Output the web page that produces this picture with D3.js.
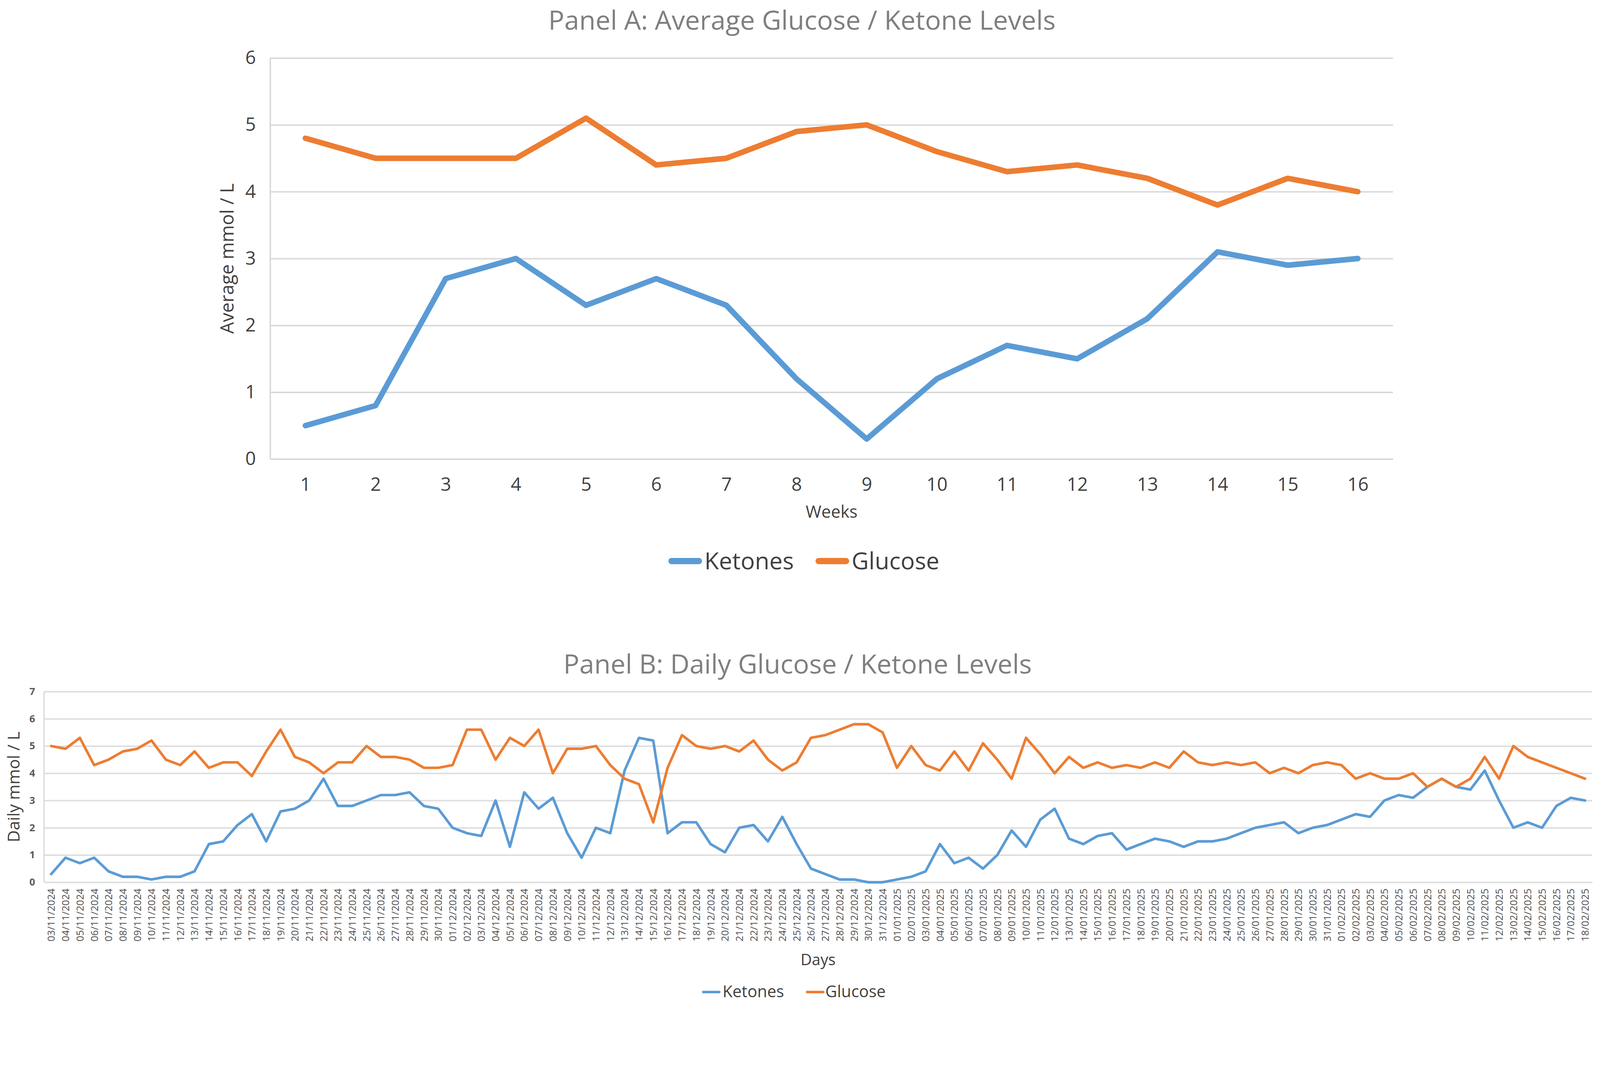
<!DOCTYPE html>
<html>
<head>
<meta charset="utf-8">
<script src="https://cdn.jsdelivr.net/npm/d3@7"></script>
<style>
  html, body { margin: 0; padding: 0; width: 100%; height: 100%; overflow: hidden; background: #fff; }
  svg { display: block; }
  text { font-family: "Open Sans", sans-serif; }
</style>
</head>
<body>
<script>
// ---- data ----
var weeks = [1, 2, 3, 4, 5, 6, 7, 8, 9, 10, 11, 12, 13, 14, 15, 16]
var weeklyKetones = [0.5, 0.8, 2.7, 3.0, 2.3, 2.7, 2.3, 1.2, 0.3, 1.2, 1.7, 1.5, 2.1, 3.1, 2.9, 3.0]
var weeklyGlucose = [4.8, 4.5, 4.5, 4.5, 5.1, 4.4, 4.5, 4.9, 5.0, 4.6, 4.3, 4.4, 4.2, 3.8, 4.2, 4.0]

var days = [
  "03/11/2024", "04/11/2024", "05/11/2024", "06/11/2024", "07/11/2024", "08/11/2024", "09/11/2024",
  "10/11/2024", "11/11/2024", "12/11/2024", "13/11/2024", "14/11/2024", "15/11/2024", "16/11/2024",
  "17/11/2024", "18/11/2024", "19/11/2024", "20/11/2024", "21/11/2024", "22/11/2024", "23/11/2024",
  "24/11/2024", "25/11/2024", "26/11/2024", "27/11/2024", "28/11/2024", "29/11/2024", "30/11/2024",
  "01/12/2024", "02/12/2024", "03/12/2024", "04/12/2024", "05/12/2024", "06/12/2024", "07/12/2024",
  "08/12/2024", "09/12/2024", "10/12/2024", "11/12/2024", "12/12/2024", "13/12/2024", "14/12/2024",
  "15/12/2024", "16/12/2024", "17/12/2024", "18/12/2024", "19/12/2024", "20/12/2024", "21/12/2024",
  "22/12/2024", "23/12/2024", "24/12/2024", "25/12/2024", "26/12/2024", "27/12/2024", "28/12/2024",
  "29/12/2024", "30/12/2024", "31/12/2024",
  "01/01/2025", "02/01/2025", "03/01/2025", "04/01/2025", "05/01/2025", "06/01/2025", "07/01/2025",
  "08/01/2025", "09/01/2025", "10/01/2025", "11/01/2025", "12/01/2025", "13/01/2025", "14/01/2025",
  "15/01/2025", "16/01/2025", "17/01/2025", "18/01/2025", "19/01/2025", "20/01/2025", "21/01/2025",
  "22/01/2025", "23/01/2025", "24/01/2025", "25/01/2025", "26/01/2025", "27/01/2025", "28/01/2025",
  "29/01/2025", "30/01/2025", "31/01/2025",
  "01/02/2025", "02/02/2025", "03/02/2025", "04/02/2025", "05/02/2025", "06/02/2025", "07/02/2025",
  "08/02/2025", "09/02/2025", "10/02/2025", "11/02/2025", "12/02/2025", "13/02/2025", "14/02/2025",
  "15/02/2025", "16/02/2025", "17/02/2025", "18/02/2025"
]

var dailyKetones = [
  // Nov
  0.3, 0.9, 0.7, 0.9, 0.4, 0.2, 0.2, 0.1, 0.2, 0.2, 0.4, 1.4, 1.5, 2.1, 2.5, 1.5, 2.6, 2.7, 3.0, 3.8,
  2.8, 2.8, 3.0, 3.2, 3.2, 3.3, 2.8, 2.7,
  // Dec
  2.0, 1.8, 1.7, 3.0, 1.3, 3.3, 2.7, 3.1, 1.8, 0.9, 2.0, 1.8, 4.1, 5.3, 5.2, 1.8, 2.2, 2.2, 1.4, 1.1,
  2.0, 2.1, 1.5, 2.4, 1.4, 0.5, 0.3, 0.1, 0.1, 0.0, 0.0,
  // Jan
  0.1, 0.2, 0.4, 1.4, 0.7, 0.9, 0.5, 1.0, 1.9, 1.3, 2.3, 2.7, 1.6, 1.4, 1.7, 1.8, 1.2, 1.4, 1.6, 1.5,
  1.3, 1.5, 1.5, 1.6, 1.8, 2.0, 2.1, 2.2, 1.8, 2.0, 2.1,
  // Feb
  2.3, 2.5, 2.4, 3.0, 3.2, 3.1, 3.5, 3.8, 3.5, 3.4, 4.1, 3.0, 2.0, 2.2, 2.0, 2.8, 3.1, 3.0
]

var dailyGlucose = [
  // Nov
  5.0, 4.9, 5.3, 4.3, 4.5, 4.8, 4.9, 5.2, 4.5, 4.3, 4.8, 4.2, 4.4, 4.4, 3.9, 4.8, 5.6, 4.6, 4.4, 4.0,
  4.4, 4.4, 5.0, 4.6, 4.6, 4.5, 4.2, 4.2,
  // Dec
  4.3, 5.6, 5.6, 4.5, 5.3, 5.0, 5.6, 4.0, 4.9, 4.9, 5.0, 4.3, 3.8, 3.6, 2.2, 4.2, 5.4, 5.0, 4.9, 5.0,
  4.8, 5.2, 4.5, 4.1, 4.4, 5.3, 5.4, 5.6, 5.8, 5.8, 5.5,
  // Jan
  4.2, 5.0, 4.3, 4.1, 4.8, 4.1, 5.1, 4.5, 3.8, 5.3, 4.7, 4.0, 4.6, 4.2, 4.4, 4.2, 4.3, 4.2, 4.4, 4.2,
  4.8, 4.4, 4.3, 4.4, 4.3, 4.4, 4.0, 4.2, 4.0, 4.3, 4.4,
  // Feb
  4.3, 3.8, 4.0, 3.8, 3.8, 4.0, 3.5, 3.8, 3.5, 3.8, 4.6, 3.8, 5.0, 4.6, 4.4, 4.2, 4.0, 3.8
]

var yTicksA = [0, 1, 2, 3, 4, 5, 6]
var yTicksB = [0, 1, 2, 3, 4, 5, 6, 7]
var seriesNames = ["Ketones", "Glucose"]
var seriesColors = ["#5b9bd5", "#ed7d31"]

// ---- svg (viewBox keeps the 4327x2743 layout, pinned to the top) ----
var svg = d3.select("body").append("svg")
  .attr("viewBox", "0 0 4327 2743")
  .attr("preserveAspectRatio", "xMidYMin meet")
  .attr("width", "100%")
  .attr("height", "100%")

var grid = "#d9d9d9"
var textDark = "#404040"
var titleGrey = "#7f7f7f"
var intFmt = d3.format("d")

// =================== Panel A ===================
var aL = 731, aR = 3767, aT = 157, aB = 1242

var xA = d3.scalePoint().domain(weeks).range([aL, aR]).padding(0.5)
var yA = d3.scaleLinear().domain([0, 6]).range([aB, aT])

svg.append("text")
  .attr("x", 2169).attr("y", 80)
  .attr("text-anchor", "middle")
  .attr("font-size", 72)
  .attr("fill", titleGrey)
  .text("Panel A: Average Glucose / Ketone Levels")

var gyA = svg.append("g")
  .attr("transform", "translate(" + aL + ",0)")
  .call(d3.axisLeft(yA).tickValues(yTicksA).tickFormat(intFmt).tickSize(-(aR - aL)).tickPadding(39))
gyA.select(".domain").remove()
gyA.selectAll("line").attr("stroke", grid).attr("stroke-width", 4)
gyA.selectAll("text").attr("font-size", 50).attr("fill", textDark)

var gxA = svg.append("g")
  .attr("transform", "translate(0," + aB + ")")
  .call(d3.axisBottom(xA).tickSize(0).tickSizeOuter(0).tickPadding(50))
gxA.select(".domain").attr("stroke", grid).attr("stroke-width", 4)
gxA.selectAll("text").attr("font-size", 50).attr("fill", textDark)

// left border line
svg.append("line")
  .attr("x1", aL).attr("x2", aL).attr("y1", aT).attr("y2", aB)
  .attr("stroke", grid).attr("stroke-width", 4)

svg.append("text")
  .attr("x", (aL + aR) / 2).attr("y", 1401)
  .attr("text-anchor", "middle")
  .attr("font-size", 46)
  .attr("fill", textDark)
  .text("Weeks")

svg.append("text")
  .attr("transform", "translate(632," + (aT + aB) / 2 + ") rotate(-90)")
  .attr("text-anchor", "middle")
  .attr("font-size", 50)
  .attr("fill", textDark)
  .text("Average mmol / L")

var lineA = d3.line()
  .x(function(d, i) { return xA(weeks[i]) })
  .y(function(d) { return yA(d) })

;[weeklyKetones, weeklyGlucose].forEach(function(s, k) {
  svg.append("path")
    .attr("d", lineA(s))
    .attr("fill", "none")
    .attr("stroke", seriesColors[k])
    .attr("stroke-width", 15)
    .attr("stroke-linejoin", "round")
    .attr("stroke-linecap", "round")
})

// legend A
var legA = [{x: 1816, tx: 1905}, {x: 2214, tx: 2303}]
legA.forEach(function(p, k) {
  svg.append("line")
    .attr("x1", p.x).attr("x2", p.x + 74).attr("y1", 1518).attr("y2", 1518)
    .attr("stroke", seriesColors[k]).attr("stroke-width", 17).attr("stroke-linecap", "round")
  svg.append("text")
    .attr("x", p.tx).attr("y", 1540)
    .attr("font-size", 64).attr("fill", textDark)
    .text(seriesNames[k])
})

// =================== Panel B ===================
var bL = 119, bR = 4306, bT = 1871, bB = 2387

var xB = d3.scalePoint().domain(days).range([bL, bR]).padding(0.5)
var yB = d3.scaleLinear().domain([0, 7]).range([bB, bT])

svg.append("text")
  .attr("x", 2157).attr("y", 1822)
  .attr("text-anchor", "middle")
  .attr("font-size", 72)
  .attr("fill", titleGrey)
  .text("Panel B: Daily Glucose / Ketone Levels")

var gyB = svg.append("g")
  .attr("transform", "translate(" + bL + ",0)")
  .call(d3.axisLeft(yB).tickValues(yTicksB).tickFormat(intFmt).tickSize(-(bR - bL)).tickPadding(24))
gyB.select(".domain").remove()
gyB.selectAll("line").attr("stroke", "#dedede").attr("stroke-width", 4)
gyB.selectAll("text").attr("font-size", 27).attr("font-weight", "bold").attr("fill", "#595959")

var gxB = svg.append("g")
  .attr("transform", "translate(0," + bB + ")")
  .call(d3.axisBottom(xB).tickSize(0).tickSizeOuter(0).tickPadding(17))
gxB.select(".domain").attr("stroke", "#dedede").attr("stroke-width", 4)
gxB.selectAll("text")
  .attr("font-size", 27)
  .attr("fill", "#505050")
  .attr("transform", "rotate(-90)")
  .attr("text-anchor", "end")
  .attr("x", -17)
  .attr("y", 0)
  .attr("dy", "0.35em")

svg.append("line")
  .attr("x1", bL).attr("x2", bL).attr("y1", bT).attr("y2", bB)
  .attr("stroke", "#dedede").attr("stroke-width", 4)

svg.append("text")
  .attr("x", (bL + bR) / 2).attr("y", 2611)
  .attr("text-anchor", "middle")
  .attr("font-size", 42)
  .attr("fill", textDark)
  .text("Days")

svg.append("text")
  .attr("transform", "translate(53," + (bT + bB) / 2 + ") rotate(-90)")
  .attr("text-anchor", "middle")
  .attr("font-size", 45)
  .attr("fill", textDark)
  .text("Daily mmol / L")

var lineB = d3.line()
  .x(function(d, i) { return xB(days[i]) })
  .y(function(d) { return yB(d) })

;[dailyKetones, dailyGlucose].forEach(function(s, k) {
  svg.append("path")
    .attr("d", lineB(s))
    .attr("fill", "none")
    .attr("stroke", seriesColors[k])
    .attr("stroke-width", 7)
    .attr("stroke-linejoin", "round")
    .attr("stroke-linecap", "round")
})

// legend B
var legB = [{x: 1902, tx: 1954}, {x: 2183, tx: 2232}]
legB.forEach(function(p, k) {
  svg.append("line")
    .attr("x1", p.x).attr("x2", p.x + 43).attr("y1", 2684).attr("y2", 2684)
    .attr("stroke", seriesColors[k]).attr("stroke-width", 7).attr("stroke-linecap", "round")
  svg.append("text")
    .attr("x", p.tx).attr("y", 2698)
    .attr("font-size", 44).attr("fill", textDark)
    .text(seriesNames[k])
})
</script>
</body>
</html>
